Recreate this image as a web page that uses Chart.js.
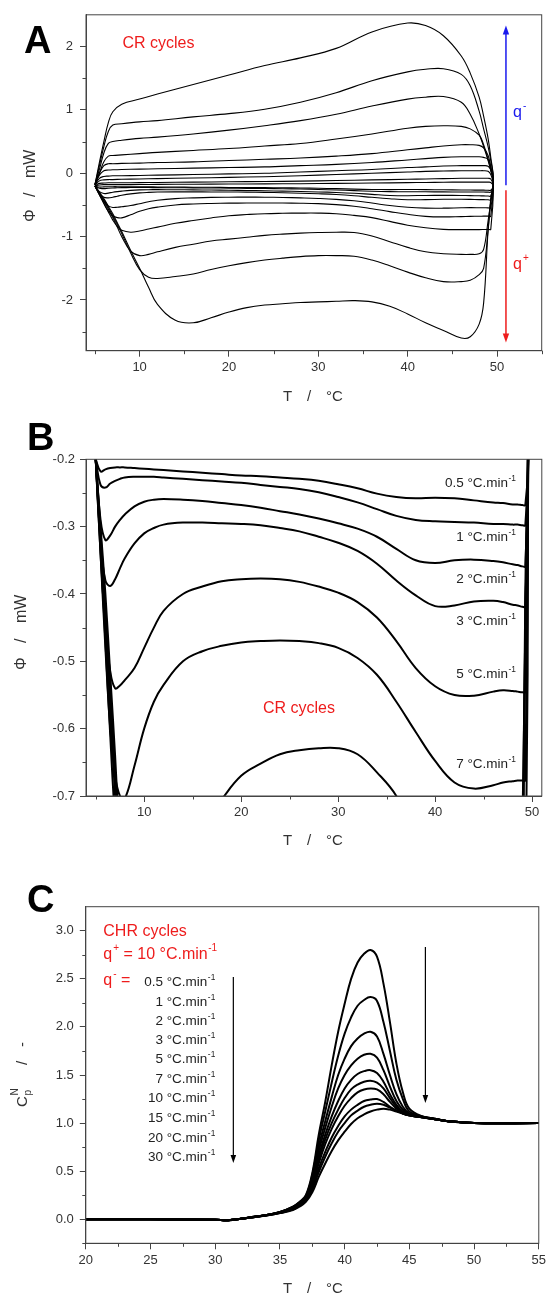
<!DOCTYPE html>
<html>
<head>
<meta charset="utf-8">
<style>
  html, body { margin: 0; padding: 0; background: #fff; }
  #wrap { position: relative; width: 549px; height: 1294px; overflow: hidden; }
  canvas { position: absolute; left: 0; }
</style>
<script src="https://cdn.jsdelivr.net/npm/chart.js@4.4.1/dist/chart.umd.min.js"></script>
</head>
<body>
<div id="wrap">
  <canvas id="chartA" width="549" height="410" style="top:0px"></canvas>
  <canvas id="chartB" width="549" height="440" style="top:410px"></canvas>
  <canvas id="chartC" width="549" height="444" style="top:850px"></canvas>
</div>
<script>
// scan rates (°C/min), same set for CR and CHR cycles
const rates = [0.5, 1, 2, 3, 5, 7, 10, 15, 20, 30];

// Panels A/B: heating branch (q+), Phi in mW on this T grid
const heatT = [5, 5.5, 6, 6.5, 7, 7.5, 8, 9, 10, 11, 12, 14, 16, 18, 20, 22, 24, 26, 28, 30, 32, 34, 36, 38, 40, 42, 44, 46, 47, 48, 48.5, 49, 49.3];
const hq05 = [-0.200, -0.218, -0.215, -0.213, -0.212, -0.212, -0.212, -0.213, -0.214, -0.215, -0.216, -0.218, -0.220, -0.222, -0.224, -0.225, -0.227, -0.229, -0.232, -0.237, -0.243, -0.251, -0.256, -0.258, -0.257, -0.258, -0.261, -0.264, -0.265, -0.267, -0.267, -0.268, -0.268];
const hq1 = [-0.200, -0.238, -0.242, -0.236, -0.232, -0.229, -0.227, -0.226, -0.226, -0.226, -0.227, -0.229, -0.231, -0.233, -0.235, -0.238, -0.241, -0.244, -0.249, -0.256, -0.264, -0.274, -0.284, -0.290, -0.292, -0.293, -0.294, -0.296, -0.296, -0.297, -0.297, -0.298, -0.298];
const hq2 = [-0.200, -0.290, -0.320, -0.313, -0.300, -0.290, -0.282, -0.270, -0.263, -0.260, -0.259, -0.260, -0.262, -0.265, -0.268, -0.272, -0.277, -0.282, -0.288, -0.295, -0.303, -0.315, -0.333, -0.350, -0.354, -0.350, -0.349, -0.351, -0.353, -0.356, -0.357, -0.359, -0.359];
const hq3 = [-0.200, -0.320, -0.380, -0.388, -0.378, -0.362, -0.347, -0.325, -0.310, -0.302, -0.297, -0.294, -0.294, -0.295, -0.296, -0.298, -0.302, -0.307, -0.315, -0.324, -0.336, -0.355, -0.380, -0.402, -0.418, -0.417, -0.411, -0.410, -0.412, -0.416, -0.417, -0.419, -0.419];
const hq5 = [-0.200, -0.340, -0.450, -0.515, -0.540, -0.536, -0.528, -0.510, -0.480, -0.450, -0.425, -0.400, -0.389, -0.381, -0.378, -0.377, -0.378, -0.382, -0.389, -0.398, -0.412, -0.435, -0.470, -0.510, -0.537, -0.550, -0.551, -0.545, -0.543, -0.544, -0.545, -0.546, -0.546];
const hq7 = [-0.200, -0.340, -0.480, -0.600, -0.670, -0.700, -0.704, -0.655, -0.600, -0.560, -0.535, -0.500, -0.485, -0.477, -0.472, -0.470, -0.469, -0.470, -0.473, -0.480, -0.495, -0.520, -0.560, -0.605, -0.648, -0.680, -0.689, -0.684, -0.680, -0.678, -0.677, -0.677, -0.677];
const hq10 = [-0.200, -0.330, -0.470, -0.610, -0.740, -0.840, -0.900, -0.930, -0.910, -0.880, -0.850, -0.790, -0.745, -0.705, -0.670, -0.652, -0.638, -0.632, -0.629, -0.629, -0.638, -0.665, -0.700, -0.760, -0.820, -0.860, -0.885, -0.890, -0.890, -0.890, -0.888, -0.885, -0.885];
const hq15 = [-0.200, -0.320, -0.440, -0.570, -0.700, -0.850, -1.000, -1.230, -1.300, -1.280, -1.240, -1.170, -1.120, -1.070, -1.040, -1.010, -0.980, -0.960, -0.945, -0.935, -0.930, -0.935, -0.990, -1.080, -1.170, -1.240, -1.270, -1.280, -1.280, -1.270, -1.200, -0.750, -0.450];
const hq20 = [-0.200, -0.310, -0.420, -0.540, -0.670, -0.810, -0.950, -1.260, -1.520, -1.640, -1.660, -1.630, -1.590, -1.520, -1.460, -1.410, -1.370, -1.340, -1.315, -1.300, -1.300, -1.310, -1.370, -1.460, -1.560, -1.650, -1.710, -1.710, -1.690, -1.600, -1.500, -0.900, -0.450];
const hq30 = [-0.200, -0.300, -0.400, -0.520, -0.640, -0.780, -0.920, -1.220, -1.500, -1.800, -2.070, -2.320, -2.360, -2.280, -2.190, -2.120, -2.080, -2.060, -2.040, -2.030, -2.020, -2.010, -2.030, -2.100, -2.220, -2.360, -2.480, -2.600, -2.580, -2.380, -2.050, -0.900, -0.400];

// Panel A: cooling branch (q-), T runs back from 49.6 to 5
const coolT = [49.6, 49.3, 49, 48.5, 48, 47, 46, 44, 42, 40, 36, 32, 28, 24, 20, 16, 12, 10, 8, 7, 6.5, 6, 5.5, 5];
const cq05 = [-0.20, -0.145, -0.14, -0.14, -0.14, -0.14, -0.14, -0.142, -0.145, -0.148, -0.155, -0.16, -0.165, -0.168, -0.17, -0.173, -0.176, -0.178, -0.18, -0.18, -0.18, -0.18, -0.185, -0.20];
const cq1 = [-0.20, -0.09, -0.08, -0.08, -0.08, -0.08, -0.08, -0.085, -0.09, -0.095, -0.105, -0.115, -0.125, -0.13, -0.135, -0.14, -0.145, -0.148, -0.15, -0.15, -0.15, -0.155, -0.16, -0.20];
const cq2 = [-0.19, -0.02, 0.03, 0.04, 0.04, 0.04, 0.04, 0.035, 0.03, 0.02, 0.00, -0.02, -0.04, -0.055, -0.065, -0.075, -0.085, -0.09, -0.095, -0.10, -0.10, -0.105, -0.12, -0.19];
const cq3 = [-0.18, 0.05, 0.11, 0.12, 0.12, 0.12, 0.12, 0.115, 0.10, 0.09, 0.06, 0.04, 0.02, 0.00, -0.01, -0.02, -0.03, -0.035, -0.04, -0.04, -0.045, -0.05, -0.08, -0.19];
const cq5 = [-0.17, 0.10, 0.22, 0.25, 0.26, 0.26, 0.26, 0.25, 0.23, 0.21, 0.17, 0.14, 0.12, 0.10, 0.09, 0.08, 0.07, 0.065, 0.06, 0.055, 0.05, 0.04, -0.03, -0.18];
const cq7 = [-0.15, 0.10, 0.28, 0.40, 0.44, 0.45, 0.45, 0.43, 0.40, 0.37, 0.31, 0.27, 0.24, 0.22, 0.20, 0.18, 0.17, 0.16, 0.155, 0.15, 0.15, 0.12, 0.00, -0.18];
const cq10 = [-0.15, 0.05, 0.22, 0.45, 0.60, 0.70, 0.74, 0.75, 0.74, 0.71, 0.62, 0.54, 0.47, 0.43, 0.39, 0.36, 0.33, 0.31, 0.29, 0.28, 0.27, 0.18, 0.00, -0.18];
const cq15 = [-0.12, 0.05, 0.20, 0.42, 0.62, 0.93, 1.12, 1.21, 1.20, 1.17, 1.06, 0.93, 0.83, 0.75, 0.68, 0.62, 0.57, 0.55, 0.52, 0.50, 0.47, 0.32, 0.06, -0.18];
const cq20 = [-0.10, 0.20, 0.42, 0.70, 0.98, 1.38, 1.56, 1.65, 1.64, 1.60, 1.46, 1.27, 1.12, 1.01, 0.94, 0.89, 0.83, 0.81, 0.78, 0.76, 0.66, 0.42, 0.12, -0.18];
const cq30 = [-0.10, 0.25, 0.55, 0.90, 1.20, 1.58, 1.85, 2.17, 2.33, 2.37, 2.23, 1.97, 1.82, 1.70, 1.55, 1.40, 1.25, 1.17, 1.09, 0.97, 0.80, 0.50, 0.17, -0.18];

// Panel C: normalised Cp on heating at 10 °C/min after cooling at each rate
const cpT = [20, 25, 30, 31, 32, 33, 34, 35, 36, 36.5, 37, 37.5, 38, 38.5, 39, 39.5, 40, 40.5, 41, 41.5, 42, 42.5, 43, 43.5, 44, 44.5, 45, 46, 47, 48, 50, 55];
const cp05 = [0, 0, -0.005, -0.01, 0.005, 0.025, 0.045, 0.075, 0.13, 0.18, 0.25, 0.48, 0.88, 1.22, 1.60, 1.95, 2.24, 2.50, 2.67, 2.76, 2.80, 2.73, 2.45, 2.05, 1.62, 1.32, 1.15, 1.07, 1.045, 1.02, 1.0, 1.0];
const cp1 = [0, 0, -0.005, -0.01, 0.005, 0.025, 0.045, 0.075, 0.128, 0.175, 0.24, 0.46, 0.82, 1.12, 1.42, 1.70, 1.93, 2.10, 2.22, 2.28, 2.31, 2.27, 2.05, 1.75, 1.45, 1.25, 1.12, 1.07, 1.045, 1.02, 1.0, 1.0];
const cp2 = [0, 0, -0.005, -0.01, 0.005, 0.025, 0.045, 0.074, 0.125, 0.17, 0.23, 0.44, 0.76, 1.02, 1.27, 1.50, 1.67, 1.80, 1.88, 1.93, 1.95, 1.90, 1.72, 1.50, 1.30, 1.17, 1.10, 1.065, 1.04, 1.02, 1.0, 1.0];
const cp3 = [0, 0, -0.005, -0.01, 0.005, 0.025, 0.045, 0.073, 0.12, 0.165, 0.225, 0.42, 0.71, 0.95, 1.17, 1.36, 1.50, 1.60, 1.67, 1.71, 1.72, 1.68, 1.55, 1.38, 1.23, 1.14, 1.09, 1.065, 1.04, 1.02, 1.0, 1.0];
const cp5 = [0, 0, -0.005, -0.01, 0.005, 0.024, 0.044, 0.072, 0.12, 0.16, 0.22, 0.40, 0.66, 0.88, 1.07, 1.23, 1.36, 1.45, 1.51, 1.54, 1.55, 1.52, 1.43, 1.30, 1.19, 1.12, 1.09, 1.06, 1.04, 1.02, 1.0, 1.0];
const cp7 = [0, 0, -0.005, -0.01, 0.005, 0.024, 0.044, 0.071, 0.115, 0.155, 0.21, 0.38, 0.62, 0.83, 1.00, 1.14, 1.26, 1.35, 1.40, 1.43, 1.44, 1.42, 1.36, 1.26, 1.17, 1.11, 1.08, 1.06, 1.04, 1.02, 1.0, 1.0];
const cp10 = [0, 0, -0.005, -0.01, 0.005, 0.023, 0.043, 0.07, 0.11, 0.15, 0.205, 0.36, 0.58, 0.78, 0.94, 1.07, 1.18, 1.26, 1.32, 1.35, 1.36, 1.35, 1.30, 1.22, 1.15, 1.10, 1.08, 1.06, 1.04, 1.02, 1.0, 1.0];
const cp15 = [0, 0, -0.005, -0.01, 0.005, 0.023, 0.042, 0.068, 0.105, 0.145, 0.195, 0.33, 0.53, 0.70, 0.85, 0.97, 1.07, 1.14, 1.19, 1.23, 1.245, 1.25, 1.22, 1.17, 1.13, 1.10, 1.08, 1.06, 1.04, 1.02, 1.0, 1.0];
const cp20 = [0, 0, -0.005, -0.01, 0.005, 0.022, 0.041, 0.066, 0.10, 0.14, 0.19, 0.31, 0.49, 0.65, 0.79, 0.91, 1.00, 1.08, 1.13, 1.17, 1.19, 1.20, 1.19, 1.16, 1.13, 1.10, 1.08, 1.06, 1.04, 1.02, 1.0, 1.0];
const cp30 = [0, 0, -0.005, -0.01, 0.005, 0.022, 0.04, 0.064, 0.095, 0.13, 0.18, 0.28, 0.44, 0.58, 0.71, 0.82, 0.91, 0.99, 1.05, 1.09, 1.12, 1.14, 1.15, 1.14, 1.12, 1.10, 1.08, 1.06, 1.04, 1.02, 1.0, 1.0];

// tick values
const xMajorAB = [10, 20, 30, 40, 50];
const xMinorAB = [5, 15, 25, 35, 45, 55];
const yMajorA = [-2, -1, 0, 1, 2];
const yMinorA = [-2.5, -1.5, -0.5, 0.5, 1.5];
const yMajorB = [-0.7, -0.6, -0.5, -0.4, -0.3, -0.2];
const yMinorB = [-0.65, -0.55, -0.45, -0.35, -0.25];
const xMajorC = [20, 25, 30, 35, 40, 45, 50, 55];
const xMinorC = [22.5, 27.5, 32.5, 37.5, 42.5, 47.5, 52.5];
const yMajorC = [0, 0.5, 1, 1.5, 2, 2.5, 3];
const yMinorC = [-0.25, 0.25, 0.75, 1.25, 1.75, 2.25, 2.75];

const heats = [hq05, hq1, hq2, hq3, hq5, hq7, hq10, hq15, hq20, hq30];
const cools = [cq05, cq1, cq2, cq3, cq5, cq7, cq10, cq15, cq20, cq30];
const cps = [cp05, cp1, cp2, cp3, cp5, cp7, cp10, cp15, cp20, cp30];

const FONT = '"Liberation Sans", Arial, Helvetica, sans-serif';
const AXIS = '#444';
const TXT = '#333';
const RED = '#ee1c1c';
const BLUE = '#1a1aee';
Chart.defaults.font.family = FONT;
Chart.defaults.animation = false;

function loopPoints(h, c) {
  return heatT.map((t, i) => ({ x: t, y: h[i] })).concat(coolT.map((t, i) => ({ x: t, y: c[i] })));
}

function lineSet(points, width) {
  return { data: points, showLine: true, borderColor: '#000', borderWidth: width, pointRadius: 0, tension: 0.4, fill: false };
}

function axisSet(p, axis) {
  const isX = axis === 'x';
  return {
    type: 'linear', position: isX ? 'bottom' : 'left',
    min: isX ? p.xr[0] : p.yr[0], max: isX ? p.xr[1] : p.yr[1],
    afterBuildTicks: s => { s.ticks = (isX ? p.xMajor : p.yMajor).map(v => ({ value: v })); },
    afterFit: s => { if (isX) s.height = p.xH; else s.width = p.yW; },
    grid: { drawOnChartArea: false, drawTicks: true, tickLength: 6, tickColor: AXIS, tickWidth: 1 },
    border: { display: true, color: AXIS, width: 1 },
    ticks: {
      color: TXT, font: { size: 13 }, padding: isX ? p.xPad : p.yPad,
      maxRotation: 0, autoSkip: false,
      callback: v => (isX ? p.xFmt : p.yFmt)(v)
    }
  };
}

// text made of pieces (main text, superscripts, subscripts)
function rich(ctx, x, y, parts, align) {
  let w = 0;
  parts.forEach(p => {
    ctx.font = (p.bold ? 'bold ' : '') + p.size + 'px ' + FONT;
    p.w = ctx.measureText(p.t).width;
    w += p.w + (p.gap || 0);
  });
  let cx = align === 'right' ? x - w : x;
  ctx.textAlign = 'left';
  ctx.textBaseline = 'alphabetic';
  parts.forEach(p => {
    ctx.font = (p.bold ? 'bold ' : '') + p.size + 'px ' + FONT;
    ctx.fillStyle = p.color || TXT;
    cx += p.gap || 0;
    ctx.fillText(p.t, cx, y + (p.dy || 0));
    cx += p.w;
  });
}

function rateLabel(r, size, color) {
  return [{ t: r + ' °C.min', size: size, color: color }, { t: '-1', size: size * 0.62, dy: -size * 0.45, gap: 0.5, color: color }];
}

// rotated axis title; pieces placed at offsets along the text direction
function yTitle(ctx, bx, startY, pieces) {
  ctx.save();
  ctx.translate(bx, startY);
  ctx.rotate(-Math.PI / 2);
  ctx.textAlign = 'left';
  ctx.textBaseline = 'alphabetic';
  ctx.fillStyle = TXT;
  pieces.forEach(p => {
    ctx.font = p.size + 'px ' + FONT;
    ctx.fillText(p.t, p.at, p.dy || 0);
  });
  ctx.restore();
}

function xTitle(ctx, by) {
  ctx.fillStyle = TXT;
  ctx.textAlign = 'left';
  ctx.textBaseline = 'alphabetic';
  ctx.font = '15px ' + FONT;
  ctx.fillText('T', 283, by);
  ctx.fillText('/', 307, by);
  ctx.fillText('°C', 326, by);
}

function arrow(ctx, x, y0, y1, color, lw, hl, hw) {
  const dir = y1 > y0 ? 1 : -1;
  ctx.strokeStyle = color;
  ctx.fillStyle = color;
  ctx.lineWidth = lw;
  ctx.beginPath();
  ctx.moveTo(x, y0);
  ctx.lineTo(x, y1 - dir * hl * 0.6);
  ctx.stroke();
  ctx.beginPath();
  ctx.moveTo(x, y1);
  ctx.lineTo(x - hw, y1 - dir * hl);
  ctx.lineTo(x + hw, y1 - dir * hl);
  ctx.closePath();
  ctx.fill();
}

function frameDecor(ctx, chart, p) {
  const a = chart.chartArea, sx = chart.scales.x, sy = chart.scales.y;
  ctx.strokeStyle = AXIS;
  ctx.lineWidth = 1;
  ctx.strokeRect(a.left, a.top, a.right - a.left, a.bottom - a.top);
  ctx.beginPath();
  p.xMinor.forEach(v => {
    const px = Math.round(sx.getPixelForValue(v)) + 0.5;
    ctx.moveTo(px, a.bottom); ctx.lineTo(px, a.bottom + 3.5);
  });
  p.yMinor.forEach(v => {
    const py = Math.round(sy.getPixelForValue(v)) + 0.5;
    ctx.moveTo(a.left, py); ctx.lineTo(a.left - 3.5, py);
  });
  ctx.stroke();
}

function letter(ctx, s, x, y) {
  ctx.fillStyle = '#000';
  ctx.textAlign = 'left';
  ctx.textBaseline = 'alphabetic';
  ctx.font = 'bold 38px ' + FONT;
  ctx.fillText(s, x, y);
}

function makeChart(id, p, datasets, draw) {
  return new Chart(document.getElementById(id), {
    type: 'scatter',
    data: { datasets: datasets },
    options: {
      responsive: false, devicePixelRatio: 1, events: [],
      layout: { autoPadding: false, padding: { left: 0, top: p.top, right: p.right, bottom: 0 } },
      plugins: { legend: { display: false }, tooltip: { enabled: false } },
      scales: { x: axisSet(p, 'x'), y: axisSet(p, 'y') }
    },
    plugins: [{
      id: 'decor',
      afterDraw(chart) {
        const ctx = chart.ctx;
        ctx.save();
        frameDecor(ctx, chart, p);
        draw(ctx, chart);
        ctx.restore();
      }
    }]
  });
}

// ---------- A: CR cycles, full loops
const panelA = {
  xr: [4, 55], yr: [-2.8, 2.5], xMajor: xMajorAB, xMinor: xMinorAB, yMajor: yMajorA, yMinor: yMinorA,
  top: 14, right: 7.3, xH: 59.3, yW: 86, xPad: 3, yPad: 7,
  xFmt: v => String(v), yFmt: v => String(v)
};
makeChart('chartA', panelA, heats.map((h, i) => lineSet(loopPoints(h, cools[i]), 1.1)), (ctx, chart) => {
  const sx = chart.scales.x, sy = chart.scales.y;
  letter(ctx, 'A', 24, 53);
  yTitle(ctx, 35, 222, [{ t: 'Φ', at: 0, size: 16 }, { t: '/', at: 25, size: 16 }, { t: 'mW', at: 44, size: 16 }]);
  xTitle(ctx, 400.5);
  rich(ctx, 122.5, 47.5, [{ t: 'CR cycles', size: 16, color: RED }]);
  const ax = sx.getPixelForValue(51.0);
  arrow(ctx, ax, sy.getPixelForValue(-0.19), sy.getPixelForValue(2.33), BLUE, 1.5, 9, 3.2);
  arrow(ctx, ax, sy.getPixelForValue(-0.27), sy.getPixelForValue(-2.67), RED, 1.5, 9, 3.2);
  rich(ctx, 513, 116.5, [{ t: 'q', size: 16, color: BLUE }, { t: '-', size: 10, dy: -8, gap: 1, color: BLUE }]);
  rich(ctx, 513, 268.5, [{ t: 'q', size: 16, color: RED }, { t: '+', size: 10, dy: -8, gap: 1, color: RED }]);
});

// ---------- B: zoom on the heating branches
const panelB = {
  xr: [4, 51], yr: [-0.7, -0.2], xMajor: xMajorAB, xMinor: xMinorAB.slice(0, 5), yMajor: yMajorB, yMinor: yMinorB,
  top: 49.3, right: 7.2, xH: 54, yW: 86, xPad: 3, yPad: 5,
  xFmt: v => String(v), yFmt: v => v.toFixed(1)
};
const labelYB = [486.7, 541, 583, 625, 677.7, 768.3];
makeChart('chartB', panelB, heats.map((h, i) => lineSet(loopPoints(h, cools[i]), 2)), (ctx) => {
  const oy = 410;
  letter(ctx, 'B', 27, 450 - oy);
  yTitle(ctx, 26, 670 - oy, [{ t: 'Φ', at: 0, size: 16 }, { t: '/', at: 27, size: 16 }, { t: 'mW', at: 47, size: 16 }]);
  xTitle(ctx, 845 - oy);
  rich(ctx, 263, 713 - oy, [{ t: 'CR cycles', size: 16, color: RED }]);
  labelYB.forEach((y, i) => rich(ctx, 516, y - oy, rateLabel(rates[i], 13.5, '#222'), 'right'));
});

// ---------- C: CHR cycles, normalised heat capacity
const panelC = {
  xr: [20, 55], yr: [-0.25, 3.25], xMajor: xMajorC, xMinor: xMinorC, yMajor: yMajorC, yMinor: yMinorC,
  top: 56.7, right: 7.2, xH: 50.7, yW: 85.8, xPad: 3, yPad: 6,
  xFmt: v => String(v), yFmt: v => v.toFixed(1)
};
const labelYC = [985.7, 1005.7, 1025, 1044.3, 1063.3, 1082.7, 1102.3, 1121.7, 1141.7, 1161];
makeChart('chartC', panelC, cps.map(c => lineSet(cpT.map((t, i) => ({ x: t, y: c[i] })), 2)), (ctx, chart) => {
  const sx = chart.scales.x, sy = chart.scales.y, oy = 850;
  letter(ctx, 'C', 27, 912 - oy);
  yTitle(ctx, 27, 1107 - oy, [
    { t: 'C', at: 0, size: 15 }, { t: 'p', at: 11.5, size: 10, dy: 4 }, { t: 'N', at: 11.5, size: 10, dy: -9 },
    { t: '/', at: 42, size: 15 }, { t: '-', at: 60, size: 15 }
  ]);
  xTitle(ctx, 1292.5 - oy);
  rich(ctx, 103.3, 935.7 - oy, [{ t: 'CHR cycles', size: 16, color: RED }]);
  rich(ctx, 103.3, 958.5 - oy, [
    { t: 'q', size: 16, color: RED }, { t: '+', size: 10, dy: -8, gap: 1, color: RED },
    { t: ' = 10 °C.min', size: 16, color: RED }, { t: '-1', size: 10, dy: -8, gap: 0.5, color: RED }
  ]);
  rich(ctx, 103.3, 985 - oy, [
    { t: 'q', size: 16, color: RED }, { t: '-', size: 10, dy: -8, gap: 1, color: RED }, { t: ' =', size: 16, color: RED }
  ]);
  labelYC.forEach((y, i) => rich(ctx, 215.3, y - oy, rateLabel(rates[i], 13.5, '#222'), 'right'));
  arrow(ctx, sx.getPixelForValue(31.4), sy.getPixelForValue(2.52), sy.getPixelForValue(0.585), '#000', 1.2, 8, 2.8);
  arrow(ctx, sx.getPixelForValue(46.24), sy.getPixelForValue(2.83), sy.getPixelForValue(1.21), '#000', 1.2, 8, 2.8);
});
</script>
</body>
</html>
